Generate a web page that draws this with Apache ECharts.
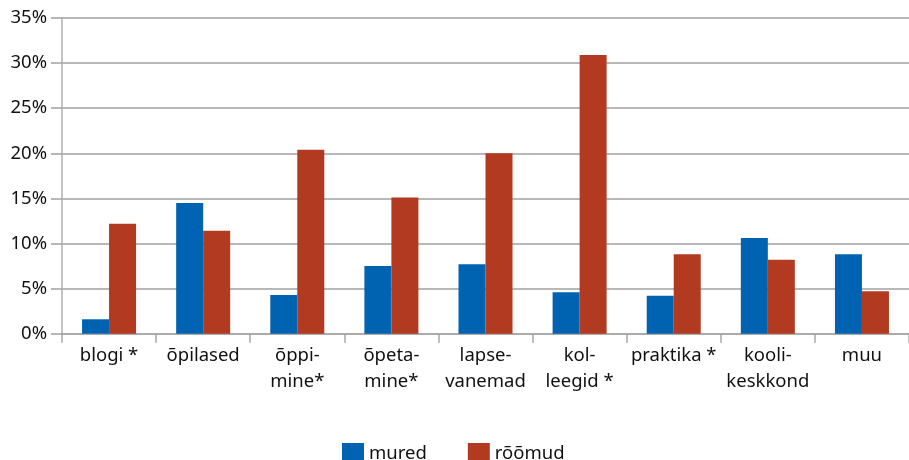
<!DOCTYPE html>
<html>
<head>
<meta charset="utf-8">
<script src="https://cdn.jsdelivr.net/npm/echarts@6/dist/echarts.min.js"></script>
<style>
html,body{margin:0;padding:0;background:#fff;}
#c{width:909px;height:460px;}
</style>
</head>
<body>
<div id="c"></div>
<script>
const categories = ["blogi *", "õpilased", "õppi-\nmine*", "õpeta-\nmine*", "lapse-\nvanemad", "kol-\nleegid *", "praktika *", "kooli-\nkeskkond", "muu"];
const mured = [1.6, 14.5, 4.3, 7.5, 7.7, 4.6, 4.2, 10.6, 8.8];
const roomud = [12.2, 11.4, 20.4, 15.1, 20.0, 30.9, 8.8, 8.2, 4.7];
const seriesNames = ["mured", "rõõmud"];

const chart = echarts.init(document.getElementById('c'), null, {renderer: 'canvas'});
const font = "'Noto Sans', sans-serif";
chart.setOption({
  animation: false,
  backgroundColor: '#ffffff',
  textStyle: {fontFamily: font},
  grid: {left: 62, top: 18, width: 849, height: 315.7, containLabel: false},
  legend: {
    left: 337, top: 438,
    itemWidth: 22, itemHeight: 22, itemGap: 41, itemTextGap: 8,
    icon: 'rect',
    textStyle: {fontFamily: font, fontSize: 18.5, color: '#111111'},
    data: seriesNames
  },
  xAxis: {
    type: 'category',
    data: categories,
    boundaryGap: true,
    axisLine: {show: true, lineStyle: {color: '#a6a6a6', width: 1.5}},
    axisTick: {show: true, length: 9, lineStyle: {color: '#a6a6a6', width: 1.5}},
    axisLabel: {
      interval: 0, margin: 9, fontFamily: font, fontSize: 18.5, lineHeight: 26, color: '#111111'
    }
  },
  yAxis: {
    type: 'value',
    min: 0, max: 35, interval: 5,
    axisLine: {show: true, lineStyle: {color: '#b0b0b0', width: 1.5}},
    axisTick: {show: true, length: 11, lineStyle: {color: '#a0a0a0', width: 1.5}},
    splitLine: {show: true, lineStyle: {color: '#a0a0a0', width: 1.5}},
    axisLabel: {
      margin: 15, fontFamily: font, fontSize: 18.5, color: '#111111',
      formatter: v => v + '%'
    }
  },
  series: [
    {name: seriesNames[0], type: 'bar', data: mured, barWidth: 27, barGap: '0%', itemStyle: {color: '#0063b1'}},
    {name: seriesNames[1], type: 'bar', data: roomud, barWidth: 27, barGap: '0%', itemStyle: {color: '#b23a20'}}
  ]
});
</script>
</body>
</html>
